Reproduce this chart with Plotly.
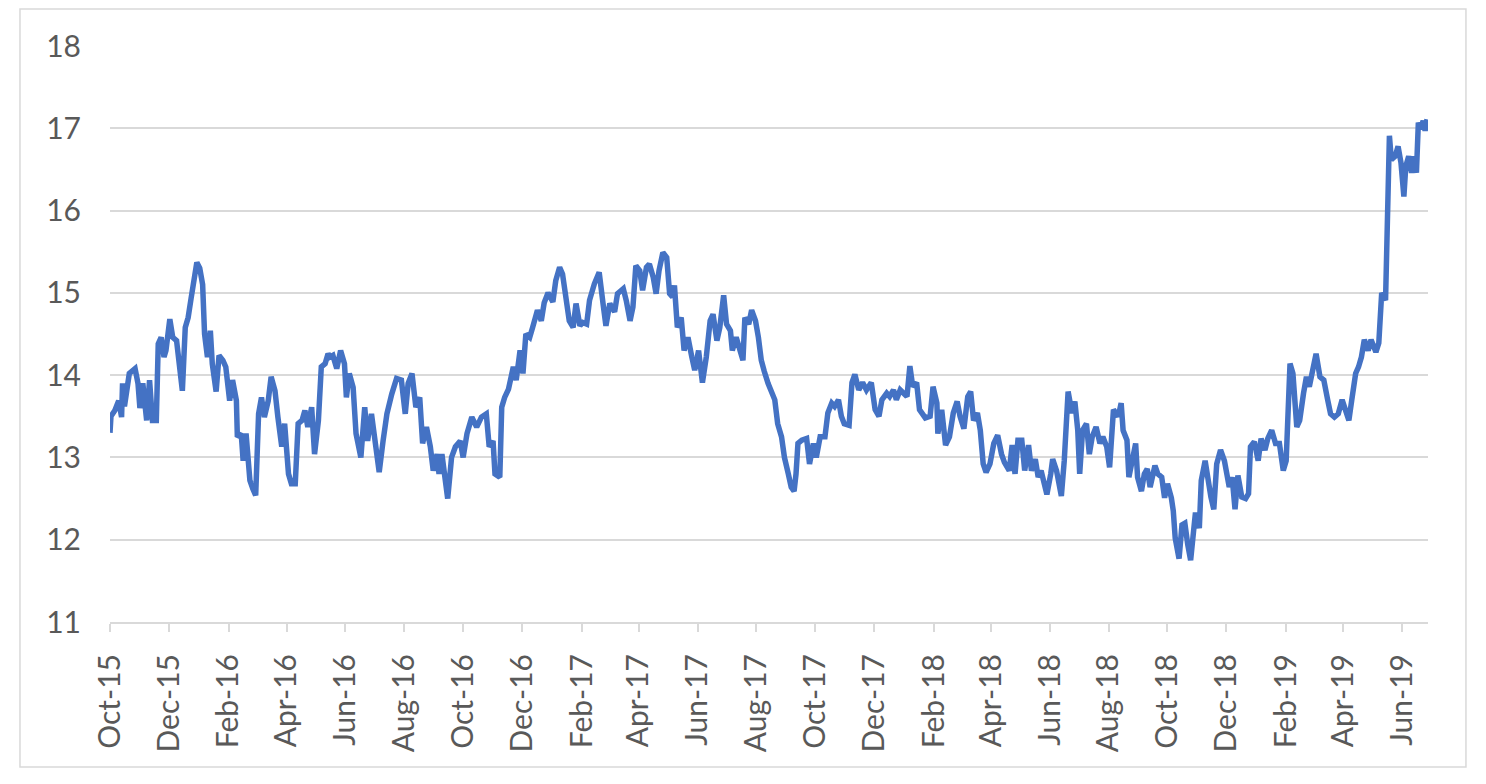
import plotly.graph_objects as go

dates = [
    "2015-10-01", "2015-10-02", "2015-10-06", "2015-10-10", "2015-10-13", "2015-10-14", "2015-10-16", "2015-10-21", "2015-10-27", "2015-10-30",
    "2015-11-01", "2015-11-04", "2015-11-08", "2015-11-11", "2015-11-14", "2015-11-18", "2015-11-20", "2015-11-23", "2015-11-26", "2015-11-28",
    "2015-12-02", "2015-12-05", "2015-12-09", "2015-12-12", "2015-12-15", "2015-12-18", "2015-12-21", "2015-12-24", "2015-12-26", "2015-12-30",
    "2016-01-02", "2016-01-05", "2016-01-07", "2016-01-10", "2016-01-13", "2016-01-15", "2016-01-19", "2016-01-22", "2016-01-26", "2016-01-29",
    "2016-02-02", "2016-02-05", "2016-02-09", "2016-02-10", "2016-02-14", "2016-02-16", "2016-02-19", "2016-02-23", "2016-02-26", "2016-02-29",
    "2016-03-03", "2016-03-06", "2016-03-09", "2016-03-13", "2016-03-16", "2016-03-20", "2016-03-23", "2016-03-27", "2016-03-30",
    "2016-04-03", "2016-04-06", "2016-04-10", "2016-04-13", "2016-04-17", "2016-04-20", "2016-04-23", "2016-04-27", "2016-04-30",
    "2016-05-04", "2016-05-07", "2016-05-11", "2016-05-14", "2016-05-16", "2016-05-19", "2016-05-23", "2016-05-27", "2016-05-31",
    "2016-06-02", "2016-06-05", "2016-06-09", "2016-06-12", "2016-06-17", "2016-06-21", "2016-06-24", "2016-06-28",
    "2016-07-02", "2016-07-06", "2016-07-10", "2016-07-14", "2016-07-19", "2016-07-24", "2016-07-29",
    "2016-08-02", "2016-08-05", "2016-08-09", "2016-08-13", "2016-08-17", "2016-08-20", "2016-08-24", "2016-08-28", "2016-08-31",
    "2016-09-04", "2016-09-06", "2016-09-09", "2016-09-12", "2016-09-15", "2016-09-19", "2016-09-23", "2016-09-28",
    "2016-10-01", "2016-10-05", "2016-10-10", "2016-10-15", "2016-10-20", "2016-10-25", "2016-10-28",
    "2016-11-01", "2016-11-03", "2016-11-08", "2016-11-10", "2016-11-13", "2016-11-17", "2016-11-22", "2016-11-25", "2016-11-29",
    "2016-12-02", "2016-12-05", "2016-12-09", "2016-12-12", "2016-12-17", "2016-12-21", "2016-12-24", "2016-12-28",
    "2017-01-02", "2017-01-05", "2017-01-09", "2017-01-12", "2017-01-16", "2017-01-19", "2017-01-23", "2017-01-26", "2017-01-30",
    "2017-02-02", "2017-02-06", "2017-02-09", "2017-02-14", "2017-02-19", "2017-02-23", "2017-02-26",
    "2017-03-02", "2017-03-07", "2017-03-10", "2017-03-16", "2017-03-19", "2017-03-23", "2017-03-26", "2017-03-29",
    "2017-04-02", "2017-04-05", "2017-04-09", "2017-04-12", "2017-04-16", "2017-04-19", "2017-04-22", "2017-04-26", "2017-04-30",
    "2017-05-03", "2017-05-06", "2017-05-08", "2017-05-11", "2017-05-15", "2017-05-18", "2017-05-22", "2017-05-26", "2017-05-29",
    "2017-06-02", "2017-06-06", "2017-06-10", "2017-06-14", "2017-06-17", "2017-06-21", "2017-06-24", "2017-06-28",
    "2017-07-01", "2017-07-05", "2017-07-07", "2017-07-11", "2017-07-15", "2017-07-18", "2017-07-20", "2017-07-24", "2017-07-27", "2017-07-31",
    "2017-08-03", "2017-08-06", "2017-08-09", "2017-08-13", "2017-08-20", "2017-08-23", "2017-08-27", "2017-08-30",
    "2017-09-03", "2017-09-06", "2017-09-09", "2017-09-11", "2017-09-13", "2017-09-17", "2017-09-22", "2017-09-25", "2017-09-29",
    "2017-10-02", "2017-10-06", "2017-10-11", "2017-10-14", "2017-10-18", "2017-10-21", "2017-10-25", "2017-10-28", "2017-10-31",
    "2017-11-05", "2017-11-08", "2017-11-11", "2017-11-15", "2017-11-19", "2017-11-23", "2017-11-28",
    "2017-12-02", "2017-12-06", "2017-12-09", "2017-12-14", "2017-12-17", "2017-12-21", "2017-12-24", "2017-12-28",
    "2018-01-01", "2018-01-04", "2018-01-07", "2018-01-10", "2018-01-14", "2018-01-17", "2018-01-23", "2018-01-28", "2018-01-31",
    "2018-02-04", "2018-02-05", "2018-02-09", "2018-02-13", "2018-02-17", "2018-02-21", "2018-02-25", "2018-02-28",
    "2018-03-04", "2018-03-08", "2018-03-11", "2018-03-14", "2018-03-18", "2018-03-21", "2018-03-24", "2018-03-27", "2018-03-31",
    "2018-04-04", "2018-04-08", "2018-04-12", "2018-04-15", "2018-04-20", "2018-04-23", "2018-04-26", "2018-04-29",
    "2018-05-03", "2018-05-06", "2018-05-10", "2018-05-13", "2018-05-17", "2018-05-20", "2018-05-23", "2018-05-27", "2018-05-29",
    "2018-06-02", "2018-06-04", "2018-06-08", "2018-06-11", "2018-06-13", "2018-06-16", "2018-06-18", "2018-06-20", "2018-06-24", "2018-06-27", "2018-06-30",
    "2018-07-02", "2018-07-05", "2018-07-09", "2018-07-12", "2018-07-15", "2018-07-19", "2018-07-23", "2018-07-26", "2018-07-30",
    "2018-08-02", "2018-08-06", "2018-08-11", "2018-08-14", "2018-08-16", "2018-08-20", "2018-08-22", "2018-08-26", "2018-08-29", "2018-08-31",
    "2018-09-04", "2018-09-07", "2018-09-10", "2018-09-13", "2018-09-18", "2018-09-21", "2018-09-25", "2018-09-28",
    "2018-10-01", "2018-10-05", "2018-10-07", "2018-10-09", "2018-10-13", "2018-10-16", "2018-10-19", "2018-10-22", "2018-10-25", "2018-10-28", "2018-10-30",
    "2018-11-03", "2018-11-05", "2018-11-09", "2018-11-12", "2018-11-15", "2018-11-18", "2018-11-21", "2018-11-25", "2018-11-29",
    "2018-12-04", "2018-12-07", "2018-12-10", "2018-12-13", "2018-12-17", "2018-12-21", "2018-12-24", "2018-12-26", "2018-12-30",
    "2019-01-03", "2019-01-06", "2019-01-10", "2019-01-13", "2019-01-17", "2019-01-21", "2019-01-25", "2019-01-29",
    "2019-02-01", "2019-02-05", "2019-02-08", "2019-02-12", "2019-02-15", "2019-02-19", "2019-02-22", "2019-02-25",
    "2019-03-01", "2019-03-04", "2019-03-08", "2019-03-12", "2019-03-16", "2019-03-19", "2019-03-23", "2019-03-27", "2019-03-31",
    "2019-04-03", "2019-04-07", "2019-04-10", "2019-04-14", "2019-04-17", "2019-04-20", "2019-04-23", "2019-04-27", "2019-04-30",
    "2019-05-05", "2019-05-08", "2019-05-10", "2019-05-11", "2019-05-15", "2019-05-17", "2019-05-19", "2019-05-21", "2019-05-25", "2019-05-28", "2019-05-31",
    "2019-06-03", "2019-06-05", "2019-06-08", "2019-06-11", "2019-06-13", "2019-06-16", "2019-06-18", "2019-06-20", "2019-06-23", "2019-06-25", "2019-06-27",
]

values = [
    13.30, 13.50, 13.57, 13.69, 13.49, 13.90, 13.62, 14.02, 14.08, 13.90,
    13.60, 13.90, 13.45, 13.94, 13.45, 13.45, 14.38, 14.46, 14.22, 14.30,
    14.68, 14.46, 14.42, 14.10, 13.81, 14.58, 14.70, 14.93, 15.10, 15.37,
    15.30, 15.10, 14.50, 14.22, 14.54, 14.14, 13.80, 14.24, 14.18, 14.10,
    13.69, 13.94, 13.69, 13.25, 13.29, 12.96, 13.29, 12.72, 12.62, 12.54,
    13.53, 13.73, 13.49, 13.69, 13.98, 13.81, 13.49, 13.13, 13.41,
    12.80, 12.68, 12.68, 13.41, 13.45, 13.57, 13.37, 13.61, 13.04,
    13.45, 14.10, 14.14, 14.26, 14.22, 14.24, 14.08, 14.30, 14.14,
    13.73, 14.02, 13.85, 13.29, 13.00, 13.61, 13.20, 13.53,
    13.13, 12.82, 13.20, 13.53, 13.77, 13.96, 13.94,
    13.53, 13.90, 14.02, 13.61, 13.73, 13.17, 13.37, 13.13, 12.84,
    13.04, 12.80, 13.04, 12.72, 12.50, 13.00, 13.13, 13.20,
    13.00, 13.29, 13.49, 13.37, 13.49, 13.53, 13.13,
    13.20, 12.80, 12.76, 13.61, 13.73, 13.83, 14.10, 13.94, 14.30,
    14.02, 14.50, 14.46, 14.58, 14.79, 14.66, 14.88, 15.00,
    14.89, 15.15, 15.31, 15.23, 14.95, 14.66, 14.58, 14.87, 14.60,
    14.64, 14.62, 14.91, 15.11, 15.25, 14.87, 14.60,
    14.87, 14.77, 14.99, 15.05, 14.91, 14.66, 14.83, 15.33,
    15.27, 15.03, 15.31, 15.35, 15.19, 14.99, 15.27, 15.49, 15.43,
    14.99, 14.95, 15.09, 14.58, 14.70, 14.30, 14.46, 14.22, 14.06,
    14.30, 13.91, 14.22, 14.66, 14.74, 14.42, 14.58, 14.97,
    14.62, 14.54, 14.30, 14.46, 14.30, 14.18, 14.70, 14.62, 14.79, 14.66,
    14.46, 14.18, 14.05, 13.90, 13.70, 13.41, 13.25, 13.00,
    12.80, 12.64, 12.59, 12.80, 13.17, 13.21, 13.23, 12.92, 13.17,
    13.00, 13.25, 13.25, 13.54, 13.66, 13.62, 13.70, 13.50, 13.41,
    13.39, 13.91, 14.01, 13.82, 13.91, 13.82, 13.91,
    13.58, 13.50, 13.70, 13.78, 13.74, 13.82, 13.70, 13.82,
    13.78, 13.74, 14.11, 13.86, 13.91, 13.58, 13.48, 13.50, 13.86,
    13.66, 13.29, 13.58, 13.15, 13.25, 13.54, 13.68, 13.50,
    13.35, 13.74, 13.80, 13.45, 13.54, 13.33, 12.92, 12.82, 12.92,
    13.17, 13.27, 13.04, 12.94, 12.84, 13.15, 12.80, 13.21,
    13.21, 12.84, 13.15, 12.84, 12.98, 12.76, 12.84, 12.68, 12.55,
    12.80, 12.98, 12.84, 12.64, 12.53, 12.96, 13.45, 13.80, 13.54, 13.68, 13.33,
    12.80, 13.33, 13.41, 13.04, 13.25, 13.37, 13.17, 13.25, 13.13,
    12.88, 13.58, 13.50, 13.66, 13.33, 13.21, 12.76, 12.96, 13.17, 12.76,
    12.59, 12.80, 12.86, 12.64, 12.90, 12.80, 12.76, 12.51,
    12.68, 12.51, 12.35, 12.02, 11.77, 12.18, 12.20, 11.94, 11.75, 12.10, 12.33,
    12.14, 12.72, 12.96, 12.70, 12.52, 12.37, 12.92, 13.09, 12.96,
    12.64, 12.76, 12.37, 12.78, 12.52, 12.50, 12.56, 13.13, 13.19,
    12.96, 13.23, 13.09, 13.23, 13.33, 13.17, 13.17, 12.84,
    12.96, 14.14, 14.02, 13.37, 13.45, 13.78, 13.98, 13.86,
    14.10, 14.26, 13.98, 13.94, 13.70, 13.53, 13.49, 13.53, 13.70,
    13.61, 13.45, 13.70, 14.02, 14.10, 14.22, 14.43, 14.30, 14.43,
    14.28, 14.39, 14.75, 15.00, 14.91, 16.13, 16.91, 16.62, 16.66, 16.78, 16.58,
    16.17, 16.54, 16.66, 16.46, 16.66, 16.46, 17.07, 16.99, 17.09, 16.97, 17.11,
]

x_range = ["2015-10-01", "2019-06-28"]
y_range = [11, 18]

fig = go.Figure(
    go.Scatter(
        x=dates,
        y=values,
        mode="lines",
        line=dict(color="#4472C4", width=5.5),
        hoverinfo="x+y",
    )
)

fig.update_layout(
    width=1486,
    height=784,
    autosize=False,
    margin=dict(l=110, r=58, t=46, b=162),
    paper_bgcolor="white",
    plot_bgcolor="white",
    showlegend=False,
    font=dict(family="Lato, 'Open Sans', sans-serif", size=30, color="#595959"),
    shapes=[
        dict(
            type="rect", xref="paper", yref="paper",
            x0=-0.0683, x1=1.0288, y0=-0.2517, y1=1.0642,
            line=dict(color="#d9d9d9", width=1.5),
            fillcolor="rgba(0,0,0,0)", layer="below",
        )
    ],
)

fig.update_xaxes(
    type="date",
    range=x_range,
    tick0="2015-10-01",
    dtick="M2",
    tickformat="%b-%y",
    tickangle=-90,
    ticks="outside",
    ticklen=8,
    tickwidth=1.5,
    tickcolor="#d9d9d9",
    showline=True,
    linecolor="#d9d9d9",
    linewidth=2,
    showgrid=False,
    zeroline=False,
    ticklabelstandoff=10,
)

fig.update_yaxes(
    range=y_range,
    tick0=11,
    dtick=1,
    showgrid=True,
    gridcolor="#d9d9d9",
    gridwidth=2,
    zeroline=False,
    showline=False,
    ticks="",
    ticklabelstandoff=28,
)

fig.write_html("out.html")
